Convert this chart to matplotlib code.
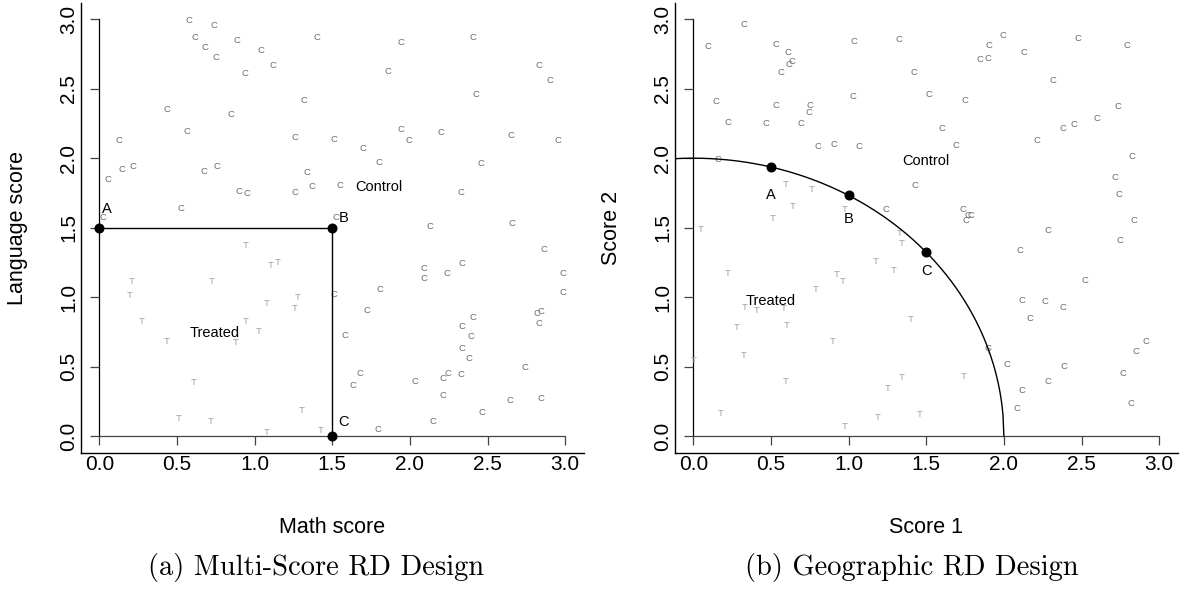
import numpy as np
import matplotlib.pyplot as plt
from matplotlib.markers import TICKLEFT, TICKDOWN

# ---- data ----
ticks = [0.0, 0.5, 1.0, 1.5, 2.0, 2.5, 3.0]
tick_labels = ["0.0", "0.5", "1.0", "1.5", "2.0", "2.5", "3.0"]

# panel (a): multi-score design, control ("C") and treated ("T") units
left_control = [
    (0.574, 2.99), (0.740, 2.958), (0.613, 2.868), (0.677, 2.80), (0.750, 2.727),
    (0.885, 2.850), (1.044, 2.778), (1.121, 2.670), (0.935, 2.612), (0.435, 2.354),
    (0.845, 2.311), (0.564, 2.193), (1.320, 2.418), (1.260, 2.152), (0.124, 2.124),
    (0.056, 1.850), (0.146, 1.922), (0.217, 1.937), (0.675, 1.901), (0.759, 1.937),
    (0.898, 1.757), (0.950, 1.747), (1.260, 1.754), (1.338, 1.896), (0.527, 1.635),
    (0.021, 1.570), (1.370, 1.793), (1.40, 2.868), (1.944, 2.835), (2.407, 2.871),
    (1.857, 2.627), (2.424, 2.461), (2.834, 2.670), (2.902, 2.562), (1.513, 2.138),
    (1.940, 2.205), (1.992, 2.128), (1.698, 2.073), (2.197, 2.186), (1.799, 1.970),
    (2.652, 2.160), (2.956, 2.124), (2.457, 1.960), (1.552, 1.807), (2.328, 1.750),
    (1.524, 1.572), (2.131, 1.505), (2.658, 1.531), (2.864, 1.340), (2.984, 1.167),
    (2.984, 1.033), (2.092, 1.203), (2.092, 1.131), (2.238, 1.167), (2.332, 1.239),
    (1.807, 1.052), (1.723, 0.904), (1.511, 1.016), (1.584, 0.722), (2.409, 0.851),
    (2.332, 0.791), (2.390, 0.715), (2.336, 0.628), (2.381, 0.559), (2.817, 0.880),
    (2.847, 0.894), (2.828, 0.808), (2.738, 0.494), (1.678, 0.449), (1.636, 0.364),
    (2.032, 0.391), (2.242, 0.449), (2.214, 0.413), (2.328, 0.441), (2.214, 0.293),
    (2.647, 0.254), (2.844, 0.273), (2.465, 0.168), (2.150, 0.103), (1.792, 0.050),
]
left_treated = [
    (0.945, 1.371), (1.104, 1.227), (1.147, 1.251), (0.210, 1.110), (0.725, 1.110),
    (0.193, 1.009), (1.078, 0.952), (1.278, 0.999), (1.258, 0.916), (0.274, 0.822),
    (0.945, 0.822), (1.029, 0.750), (0.435, 0.679), (0.881, 0.671), (0.609, 0.384),
    (0.508, 0.125), (0.718, 0.101), (1.305, 0.185), (1.078, 0.024), (1.423, 0.041),
]
left_cutoff_x = [0.0, 1.5, 1.5]
left_cutoff_y = [1.5, 1.5, 0.0]
left_pts = {"A": (0.0, 1.5), "B": (1.5, 1.5), "C": (1.5, 0.0)}
left_pt_offsets = {"A": (8, 19), "B": (11, 10), "C": (11, 14)}

# panel (b): geographic design
right_control = [
    (0.325, 2.963), (0.097, 2.802), (0.535, 2.819), (0.612, 2.761), (0.637, 2.697),
    (0.614, 2.675), (0.565, 2.618), (1.033, 2.840), (1.323, 2.855), (1.423, 2.618),
    (0.144, 2.410), (0.530, 2.381), (0.223, 2.259), (0.466, 2.251), (0.696, 2.251),
    (0.749, 2.376), (0.747, 2.328), (1.026, 2.445), (0.803, 2.083), (0.906, 2.101),
    (1.067, 2.086), (0.161, 1.988), (1.428, 1.806), (1.241, 1.634), (1.994, 2.884),
    (1.906, 2.812), (1.848, 2.708), (1.896, 2.718), (2.131, 2.761), (2.475, 2.859),
    (2.793, 2.812), (2.318, 2.560), (1.520, 2.457), (1.751, 2.417), (2.737, 2.371),
    (1.603, 2.215), (1.690, 2.093), (2.215, 2.126), (2.381, 2.213), (2.449, 2.244),
    (2.601, 2.287), (2.827, 2.014), (2.717, 1.863), (2.741, 1.741), (1.739, 1.634),
    (1.771, 1.590), (1.788, 1.590), (1.754, 1.555), (2.840, 1.555), (2.286, 1.478),
    (2.748, 1.408), (2.104, 1.339), (2.520, 1.116), (2.114, 0.973), (2.265, 0.965),
    (2.383, 0.922), (2.170, 0.843), (2.915, 0.678), (2.851, 0.611), (2.765, 0.453),
    (2.820, 0.233), (1.900, 0.628), (2.022, 0.513), (2.389, 0.503), (2.284, 0.395),
    (2.117, 0.330), (2.086, 0.197),
]
right_treated = [
    (0.595, 1.808), (0.760, 1.777), (0.640, 1.652), (0.977, 1.634), (0.513, 1.569),
    (0.048, 1.490), (1.327, 1.456), (1.340, 1.389), (1.172, 1.253), (1.288, 1.195),
    (0.221, 1.169), (0.923, 1.162), (0.962, 1.111), (0.790, 1.052), (0.333, 0.922),
    (0.408, 0.903), (0.584, 0.915), (0.279, 0.779), (0.599, 0.793), (1.400, 0.838),
    (0.898, 0.678), (0.325, 0.578), (0.0, 0.544), (0.595, 0.395), (1.342, 0.420),
    (1.252, 0.340), (0.174, 0.163), (1.189, 0.132), (1.458, 0.156), (0.972, 0.065),
    (1.739, 0.427), (1.900, 0.605),
]
radius = 2.0
right_pts = {"A": (0.5, 1.936), "B": (1.0, 1.732), "C": (1.5, 1.323)}
right_pt_offsets = {"A": (0, -28), "B": (0, -24), "C": (0, -19)}

SANS = "Liberation Sans"
C_COL = "#6c6c6c"
T_COL = "#a0a0a0"

fig = plt.figure(figsize=(11.83, 5.93), dpi=100)
ax1 = fig.add_axes([0.0682, 0.2366, 0.4253, 0.759])
ax2 = fig.add_axes([0.5703, 0.2366, 0.4253, 0.759])


def base_axes(ax, xlabel, ylabel):
    ax.set_xlim(-0.12, 3.12)
    ax.set_ylim(-0.12, 3.12)
    for s in ["top", "right"]:
        ax.spines[s].set_visible(False)
    for s in ["left", "bottom"]:
        ax.spines[s].set_linewidth(1.0)
        ax.spines[s].set_color("black")
    ax.set_xticks(ticks)
    ax.set_yticks(ticks)
    ax.set_xticklabels(tick_labels, fontsize=15, family=SANS)
    ax.set_yticklabels(tick_labels, fontsize=15, family=SANS, rotation=90, va="center")
    ax.tick_params(axis="x", length=0, pad=1.8)
    ax.tick_params(axis="y", length=0, pad=2.0)
    # axes drawn through the origin with outward ticks
    ax.plot([0, 0], [ticks[0], ticks[-1]], color="black", lw=0.9, zorder=2)
    ax.plot([ticks[0], ticks[-1]], [0, 0], color="#444444", lw=0.9, zorder=2)
    ax.plot(np.zeros(len(ticks)), ticks, linestyle="none", marker=TICKLEFT,
            markersize=6.5, mew=0.9, color="#444444")
    ax.plot(ticks, np.zeros(len(ticks)), linestyle="none", marker=TICKDOWN,
            markersize=6.3, mew=0.9, color="#444444")
    ax.set_xlabel(xlabel, fontsize=15.5, family=SANS, va="center")
    ax.xaxis.set_label_coords(0.5, -0.167)
    ax.set_ylabel(ylabel, fontsize=15.5, family=SANS, va="center")
    ax.yaxis.set_label_coords(-0.1246, 0.5)


def draw_units(ax, control, treated):
    for x, y in control:
        ax.text(x, y, "C", color=C_COL, fontsize=6.8, family=SANS,
                ha="center", va="center", zorder=3)
    for x, y in treated:
        ax.text(x, y, "T", color=T_COL, fontsize=6.8, family=SANS,
                ha="center", va="center", zorder=3)


def draw_points(ax, pts, offsets):
    for name, (x, y) in pts.items():
        ax.plot(x, y, "o", color="black", markersize=6.2, zorder=5, clip_on=False)
        ax.annotate(name, (x, y), xytext=offsets[name], textcoords="offset pixels",
                    ha="center", va="center", fontsize=10.5, family=SANS)


# (a) Multi-score
base_axes(ax1, "Math score", "Language score")
draw_units(ax1, left_control, left_treated)
ax1.plot(left_cutoff_x, left_cutoff_y, color="black", lw=1.0, zorder=4)
draw_points(ax1, left_pts, left_pt_offsets)
ax1.text(1.80, 1.793, "Control", fontsize=10.5, family=SANS, ha="center", va="center")
ax1.text(0.746, 0.743, "Treated", fontsize=10.5, family=SANS, ha="center", va="center")

# (b) Geographic
base_axes(ax2, "Score 1", "Score 2")
draw_units(ax2, right_control, right_treated)
xs = np.linspace(-0.12, radius, 400)
ax2.plot(xs, np.sqrt(radius ** 2 - xs ** 2), color="black", lw=1.0, zorder=4)
draw_points(ax2, right_pts, right_pt_offsets)
ax2.text(1.498, 1.978, "Control", fontsize=10.5, family=SANS, ha="center", va="center")
ax2.text(0.50, 0.970, "Treated", fontsize=10.5, family=SANS, ha="center", va="center")

# captions
fig.text(316 / 1183, 1 - 567 / 593, "(a) Multi-Score RD Design",
         family="cmr10", fontsize=20.5, ha="center", va="center")
fig.text(912 / 1183, 1 - 567 / 593, "(b) Geographic RD Design",
         family="cmr10", fontsize=20.5, ha="center", va="center")

fig.savefig("out.png", dpi=100)
